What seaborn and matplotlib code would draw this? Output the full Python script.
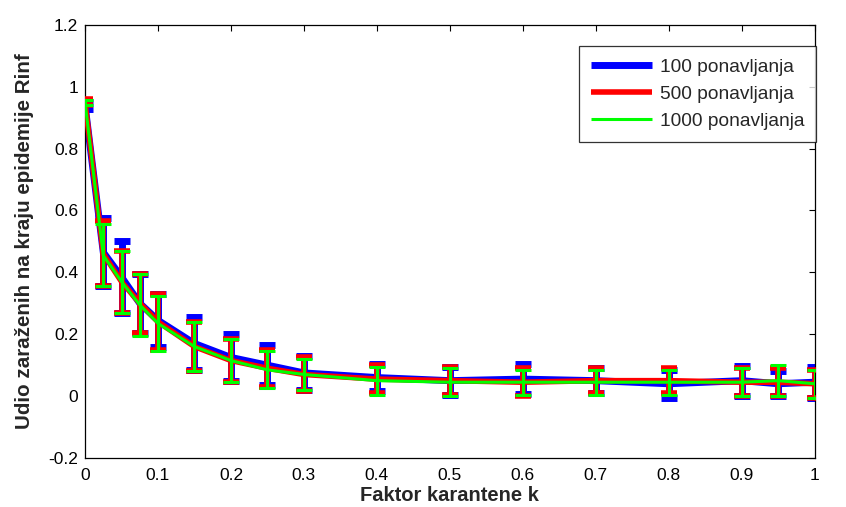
import numpy as np
import pandas as pd
import matplotlib
matplotlib.use("Agg")
import matplotlib.pyplot as plt
import seaborn as sns

# Quarantine factor k
k_values = [0, 0.025, 0.05, 0.075, 0.1, 0.15, 0.2, 0.25, 0.3,
            0.4, 0.5, 0.6, 0.7, 0.8, 0.9, 0.95, 1.0]

# Mean share infected at end of epidemic (Rinf) and its spread
rinf_100 = [0.94, 0.465, 0.385, 0.300, 0.245, 0.170, 0.125, 0.100, 0.075,
            0.060, 0.050, 0.055, 0.050, 0.040, 0.050, 0.040, 0.045]
err_100 = [0.012, 0.110, 0.115, 0.095, 0.085, 0.085, 0.075, 0.065, 0.055,
           0.045, 0.045, 0.048, 0.040, 0.045, 0.048, 0.040, 0.050]

rinf_500 = [0.95, 0.460, 0.370, 0.300, 0.240, 0.160, 0.115, 0.090, 0.070,
            0.055, 0.050, 0.045, 0.050, 0.050, 0.045, 0.045, 0.040]
err_500 = [0.010, 0.105, 0.100, 0.095, 0.090, 0.080, 0.070, 0.060, 0.055,
           0.045, 0.045, 0.045, 0.040, 0.040, 0.045, 0.045, 0.045]

rinf_1000 = [0.95, 0.455, 0.370, 0.295, 0.235, 0.160, 0.115, 0.085, 0.070,
             0.050, 0.045, 0.045, 0.045, 0.045, 0.045, 0.050, 0.040]
err_1000 = [0.008, 0.100, 0.100, 0.100, 0.090, 0.080, 0.070, 0.060, 0.050,
            0.045, 0.045, 0.040, 0.040, 0.040, 0.045, 0.050, 0.045]

labels = ["100 ponavljanja", "500 ponavljanja", "1000 ponavljanja"]
colors = ["#0000ff", "#ff0000", "#00ff00"]
widths = [5.0, 4.0, 2.2]

x_ticks = [0, 0.1, 0.2, 0.3, 0.4, 0.5, 0.6, 0.7, 0.8, 0.9, 1.0]
x_tick_labels = ["0", "0.1", "0.2", "0.3", "0.4", "0.5", "0.6", "0.7", "0.8", "0.9", "1"]
y_ticks = [-0.2, 0, 0.2, 0.4, 0.6, 0.8, 1.0, 1.2]
y_tick_labels = ["-0.2", "0", "0.2", "0.4", "0.6", "0.8", "1", "1.2"]

sns.set_theme(style="white")
plt.rcParams["font.family"] = ["Liberation Sans", "DejaVu Sans"]

frames = []
for lab, m, e in zip(labels, [rinf_100, rinf_500, rinf_1000],
                     [err_100, err_500, err_1000]):
    frames.append(pd.DataFrame({"k": k_values, "rinf": m, "err": e, "serija": lab}))
df = pd.concat(frames, ignore_index=True)

fig = plt.figure(figsize=(8.46, 5.07), dpi=100)
ax = fig.add_axes([0.1005, 0.0966, 0.8625, 0.8545])

for i, (lab, col, lw) in enumerate(zip(labels, colors, widths)):
    sub = df[df["serija"] == lab]
    ax.errorbar(sub["k"], sub["rinf"], yerr=sub["err"], fmt="none",
                ecolor=col, elinewidth=lw, capsize=5.8, capthick=lw,
                zorder=2 + i)
    sns.lineplot(data=sub, x="k", y="rinf", ax=ax, color=col, linewidth=lw,
                 label=lab, zorder=2 + i, errorbar=None, sort=False,
                 solid_capstyle="butt", solid_joinstyle="miter")

ax.set_xlim(0, 1)
ax.set_ylim(-0.2, 1.2)
ax.set_xticks(x_ticks)
ax.set_xticklabels(x_tick_labels)
ax.set_yticks(y_ticks)
ax.set_yticklabels(y_tick_labels)
ax.tick_params(direction="in", top=True, right=True, length=4, width=0.8,
               labelsize=12.5, colors="black")
ax.tick_params(axis="x", pad=7)
ax.tick_params(axis="y", pad=5)
for sp in ax.spines.values():
    sp.set_color("black")
    sp.set_linewidth(0.9)

ax.set_xlabel("Faktor karantene k", fontsize=14.5, fontweight="bold", labelpad=2)
ax.set_ylabel("Udio zaraženih na kraju epidemije Rinf", fontsize=14.8,
              fontweight="bold", labelpad=10)

leg = ax.legend(loc="upper right", bbox_to_anchor=(1.002, 0.95), fontsize=13.8,
                frameon=True, fancybox=False, edgecolor="black",
                handlelength=3.2, handletextpad=0.4, borderpad=0.62,
                labelspacing=0.5, borderaxespad=0.0)
leg.get_frame().set_linewidth(0.9)
for h in leg.get_lines():
    h.set_solid_capstyle("butt")

fig.savefig("out.png", dpi=100, facecolor="white")
